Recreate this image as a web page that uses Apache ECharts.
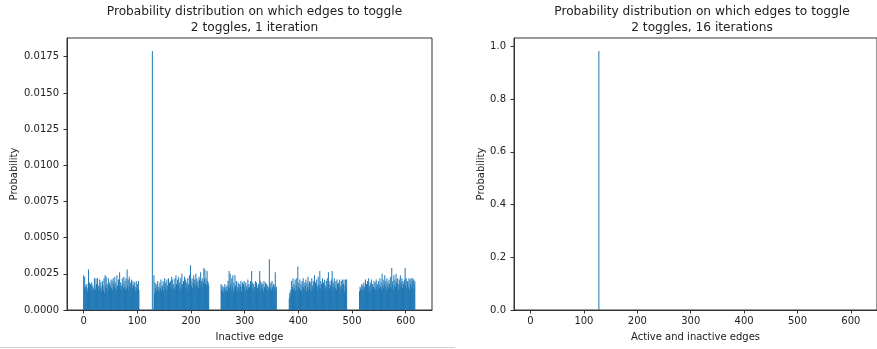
<!DOCTYPE html>
<html>
<head>
<meta charset="utf-8">
<title>Probability distribution on which edges to toggle</title>
<script src="https://cdn.jsdelivr.net/npm/echarts@6/dist/echarts.min.js"></script>
<style>
    html, body { margin: 0; padding: 0; background: #fff; }
    #chart { width: 877px; height: 349px; }
</style>
</head>
<body>
<div id="chart"></div>
<script>
// probabilities per inactive edge, in units of 1e-4, one list per run of edges
var group1Start = 0;
var group1 = [24, 15, 23, 17, 14, 16, 18, 13, 15, 28,
    16, 19, 14, 18, 16, 19, 13, 17, 15, 14,
    22, 16, 14, 22, 18, 15, 22, 13, 17, 14,
    21, 15, 19, 13, 16, 20, 17, 14, 22, 12,
    24, 16, 23, 15, 18, 13, 22, 16, 19, 14,
    17, 21, 15, 20, 14, 22, 18, 16, 23, 15,
    19, 14, 24, 17, 13, 21, 16, 26, 15, 19,
    17, 14, 22, 18, 15, 23, 16, 20, 14, 22,
    15, 28, 17, 21, 14, 23, 16, 19, 14, 21,
    18, 15, 20, 17, 14, 19, 16, 13, 20, 15,
    18, 14, 20, 14];
var group2Start = 131;
var group2 = [24, 11, 19, 15, 18, 13, 17, 20, 14, 16,
    13, 19, 15, 21, 14, 17, 16, 20, 13, 18,
    22, 15, 19, 14, 21, 17, 13, 22, 16, 19,
    15, 20, 14, 23, 17, 21, 15, 18, 14, 22,
    16, 24, 18, 13, 21, 17, 23, 15, 19, 14,
    22, 16, 25, 18, 14, 20, 17, 23, 15, 21,
    16, 19, 14, 22, 18, 17, 24, 16, 31, 20,
    17, 22, 15, 19, 24, 18, 21, 16, 25, 19,
    22, 17, 20, 15, 23, 21, 18, 26, 16, 20,
    22, 17, 19, 29, 21, 28, 18, 22, 17, 27,
    20, 19, 17];
var group3Start = 256;
var group3 = [18, 14, 17, 13, 16, 12, 15, 18, 13, 16,
    14, 17, 13, 20, 16, 27, 15, 25, 18, 14,
    22, 16, 24, 13, 19, 15, 24, 17, 14, 20,
    16, 13, 19, 15, 18, 14, 17, 20, 13, 16,
    19, 14, 18, 20, 16, 13, 19, 15, 17, 14,
    21, 15, 18, 16, 14, 20, 17, 27, 15, 19,
    14, 18, 16, 13, 20, 15, 19, 17, 15, 14,
    18, 16, 27, 20, 14, 17, 19, 15, 18, 13,
    20, 16, 14, 19, 15, 18, 17, 14, 16, 13,
    35, 18, 15, 19, 14, 20, 16, 13, 18, 15,
    17, 26, 14, 16];
var group4Start = 383;
var group4 = [8, 12, 10, 14, 20, 13, 16, 22, 14, 18,
    15, 21, 13, 17, 22, 14, 30, 16, 19, 15,
    21, 14, 18, 13, 20, 16, 22, 15, 19, 14,
    17, 21, 13, 19, 16, 23, 14, 18, 20, 15,
    19, 13, 22, 17, 15, 20, 14, 24, 16, 19,
    15, 21, 17, 14, 23, 18, 16, 27, 15, 20,
    18, 14, 22, 16, 19, 13, 21, 17, 15, 20,
    16, 22, 14, 26, 18, 15, 20, 17, 13, 21,
    27, 16, 19, 14, 22, 17, 15, 20, 14, 21,
    18, 13, 19, 16, 21, 14, 17, 20, 15, 21,
    14, 18, 21, 13, 17, 21, 15, 21];
var group5Start = 514;
var group5 = [13, 16, 14, 15, 18, 13, 17, 14, 19, 16,
    13, 21, 15, 18, 14, 20, 16, 22, 13, 17,
    19, 15, 21, 14, 18, 13, 16, 20, 15, 19,
    14, 21, 16, 18, 13, 20, 17, 15, 22, 16,
    19, 14, 25, 17, 21, 15, 18, 24, 16, 20,
    14, 22, 17, 19, 15, 21, 18, 16, 23, 15,
    29, 18, 20, 14, 24, 17, 21, 16, 25, 19,
    15, 22, 18, 14, 21, 17, 24, 16, 19, 22,
    15, 20, 18, 14, 21, 29, 17, 22, 15, 20,
    19, 16, 22, 14, 21, 18, 22, 16, 20, 22,
    15, 21, 18, 20];

// the one edge that stands out
var spikeEdge = 128;
var spikeLeft = 0.0179;
var spikeRight = 0.983;

var xTicks = [0, 100, 200, 300, 400, 500, 600];
var yTicksLeft = [0, 0.0025, 0.005, 0.0075, 0.01, 0.0125, 0.015, 0.0175];
var yTicksRight = [0, 0.2, 0.4, 0.6, 0.8, 1.0];

var leftData = [];
[[group1Start, group1], [group2Start, group2], [group3Start, group3],
 [group4Start, group4], [group5Start, group5]].forEach(function (g) {
    for (var i = 0; i < g[1].length; i++) {
        leftData.push([g[0] + i, g[1][i] / 10000]);
    }
});
leftData.push([spikeEdge, spikeLeft]);
var rightData = [[spikeEdge, spikeRight]];

var font = 'DejaVu Sans';
var textColor = '#222';
var barBlue = '#1f77b4';

function xAxisFor(idx, name) {
    return {
        type: 'value',
        gridIndex: idx,
        min: -31,
        max: 649,
        name: name,
        nameLocation: 'middle',
        nameGap: 22,
        nameTextStyle: { fontFamily: font, fontSize: 10, color: textColor },
        axisLine: { onZero: false, lineStyle: { color: '#333', width: 1 } },
        axisTick: { customValues: xTicks, length: 3.5, lineStyle: { color: '#333' } },
        axisLabel: {
            customValues: xTicks,
            margin: 6,
            fontFamily: font,
            fontSize: 10,
            color: textColor
        },
        splitLine: { show: false }
    };
}

function yAxisFor(idx, max, ticks, gap, digits) {
    return {
        type: 'value',
        gridIndex: idx,
        min: 0,
        max: max,
        name: 'Probability',
        nameLocation: 'middle',
        nameRotate: 90,
        nameGap: gap,
        nameTextStyle: { fontFamily: font, fontSize: 10, color: textColor },
        axisLine: { show: true, onZero: false, lineStyle: { color: '#333', width: 1 } },
        axisTick: { show: true, customValues: ticks, length: 3.5, lineStyle: { color: '#333' } },
        axisLabel: {
            customValues: ticks,
            margin: 8,
            fontFamily: font,
            fontSize: 10,
            color: textColor,
            formatter: function (v) { return v.toFixed(digits); }
        },
        splitLine: { show: false }
    };
}

var chart = echarts.init(document.getElementById('chart'));
var option = {
    animation: false,
    backgroundColor: '#fff',
    title: [
        {
            text: 'Probability distribution on which edges to toggle\n2 toggles, 1 iteration',
            left: 249.5,
            top: -1,
            textAlign: 'center',
            textStyle: { fontFamily: font, fontSize: 12.2, fontWeight: 'normal', color: textColor, lineHeight: 15.7 }
        },
        {
            text: 'Probability distribution on which edges to toggle\n2 toggles, 16 iterations',
            left: 697,
            top: -1,
            textAlign: 'center',
            textStyle: { fontFamily: font, fontSize: 12.2, fontWeight: 'normal', color: textColor, lineHeight: 15.7 }
        }
    ],
    grid: [
        { left: 67, top: 38, width: 365, height: 272, show: true, borderColor: '#333', borderWidth: 1 },
        { left: 514, top: 38, width: 366, height: 272, show: true, borderColor: '#333', borderWidth: 1 }
    ],
    xAxis: [xAxisFor(0, 'Inactive edge'), xAxisFor(1, 'Active and inactive edges')],
    yAxis: [
        yAxisFor(0, 0.018795, yTicksLeft, 48, 4),
        yAxisFor(1, 1.0322, yTicksRight, 28, 1)
    ],
    series: [
        {
            type: 'bar',
            xAxisIndex: 0,
            yAxisIndex: 0,
            barWidth: 0.43,
            itemStyle: { color: barBlue },
            data: leftData
        },
        {
            type: 'bar',
            xAxisIndex: 1,
            yAxisIndex: 1,
            barWidth: 0.43,
            itemStyle: { color: barBlue },
            data: rightData
        }
    ],
    graphic: [
        {
            type: 'line',
            shape: { x1: 0, y1: 347.5, x2: 455, y2: 347.5 },
            style: { stroke: '#d0d0d0', lineWidth: 1 }
        }
    ]
};
chart.setOption(option);
</script>
</body>
</html>
